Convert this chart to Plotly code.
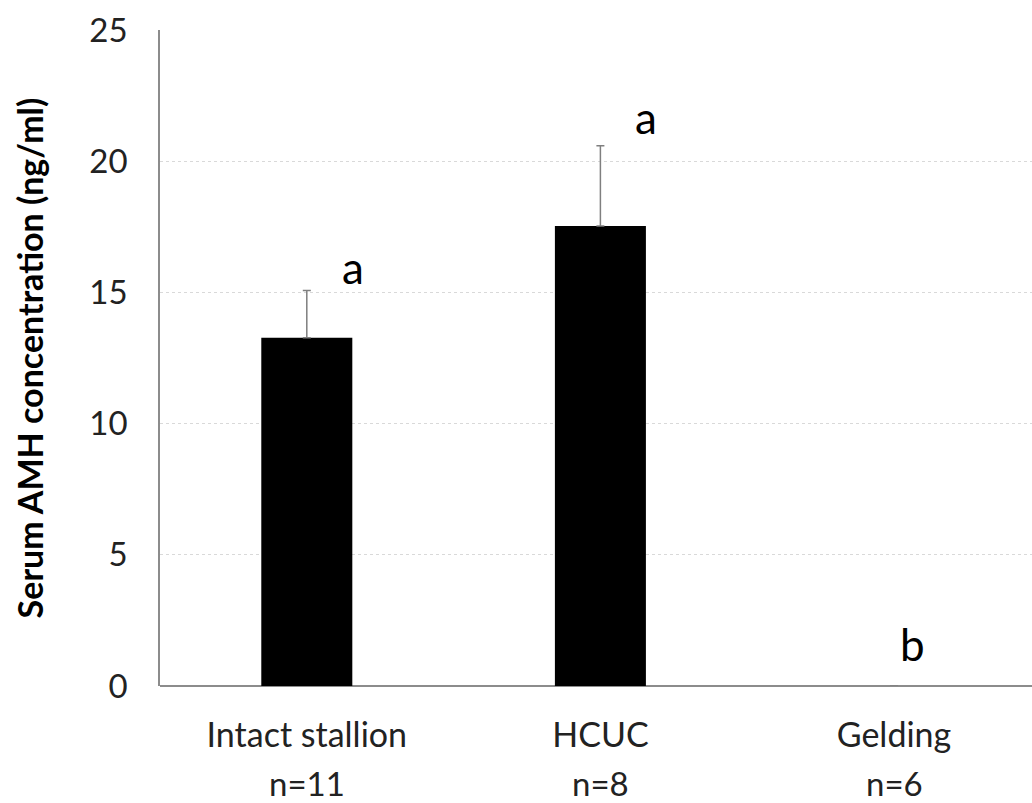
import plotly.graph_objects as go

categories = ["Intact stallion", "HCUC", "Gelding"]
group_sizes = ["n=11", "n=8", "n=6"]
means = [13.27, 17.53, 0.0]
sem = [1.8, 3.06, 0.0]
letters = ["a", "a", "b"]
letter_y = [15.95, 21.7, 1.6]
y_ticks = [0, 5, 10, 15, 20, 25]

FONT = "Lato"
x_idx = list(range(len(categories)))

fig = go.Figure()
fig.add_trace(go.Bar(
    x=x_idx, y=means, width=0.31,
    marker=dict(color="black", line=dict(width=0)),
    error_y=dict(type="data", array=sem, arrayminus=[0]*len(sem), symmetric=False,
                 color="#7f7f7f", thickness=1.5, width=4, visible=True),
    showlegend=False,
))

xshifts = [46, 46, 18]
for i, (lt, ly) in enumerate(zip(letters, letter_y)):
    fig.add_annotation(x=i, y=ly, text=lt, showarrow=False, xshift=xshifts[i],
                       font=dict(family=FONT, size=44, color="black"),
                       xref="x", yref="y")

for i, n in enumerate(group_sizes):
    fig.add_annotation(x=i, y=0, yref="paper", xref="x", text=n, showarrow=False,
                       yanchor="middle", yshift=-97,
                       font=dict(family=FONT, size=33, color="#222"))

fig.update_layout(
    width=1032, height=803,
    margin=dict(l=160, r=0, t=30, b=117),
    plot_bgcolor="white", paper_bgcolor="white",
    font=dict(family=FONT, color="#222"),
)
fig.update_xaxes(
    tickmode="array", tickvals=x_idx, ticktext=categories,
    range=[-0.5, 2.47], showgrid=False, zeroline=False,
    showline=False, ticks="", tickfont=dict(family=FONT, size=34, color="#222"),
    ticklabelstandoff=26,
)
fig.update_yaxes(
    range=[0, 25], tickvals=y_ticks, showgrid=True,
    gridcolor="#d9d9d9", griddash="dot", gridwidth=1,
    zeroline=True, zerolinecolor="#8c8c8c", zerolinewidth=2,
    showline=True, linecolor="#8c8c8c", linewidth=1.5,
    ticks="", ticklabelstandoff=24,
    tickfont=dict(family=FONT, size=33, color="#222"),
    title=dict(text="<b>Serum AMH concentration (ng/ml)</b>",
               font=dict(family=FONT, size=34, color="black"), standoff=35),
)

fig.write_html("out.html")
